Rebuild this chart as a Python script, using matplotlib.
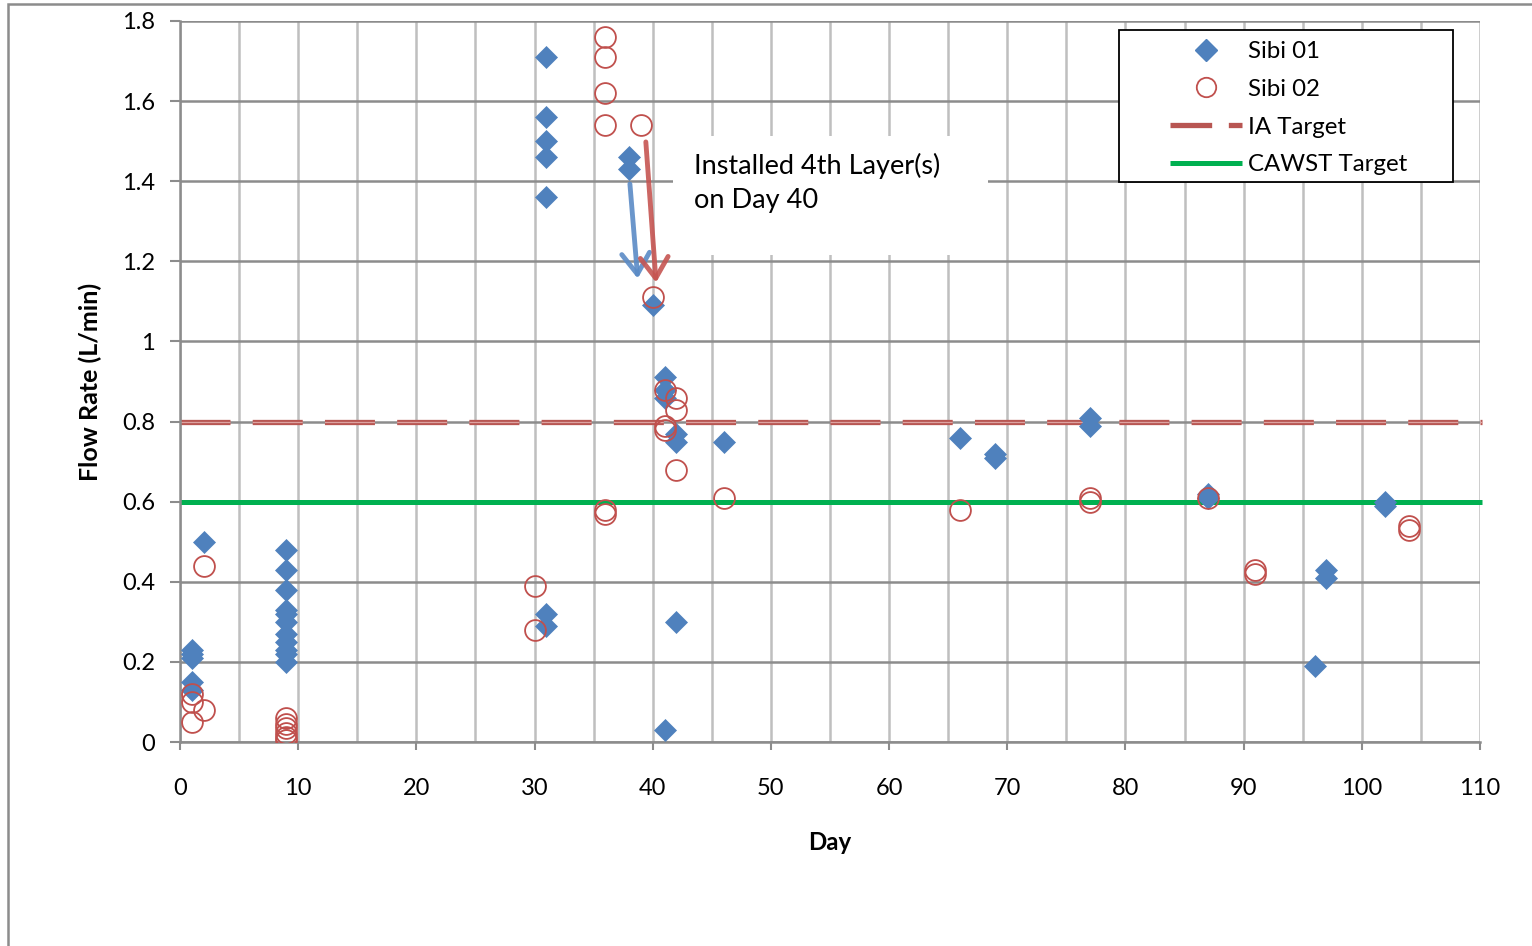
import numpy as np
import matplotlib
matplotlib.use('Agg')
import matplotlib.pyplot as plt
from matplotlib.lines import Line2D
from matplotlib.patches import Rectangle
from matplotlib.ticker import MultipleLocator, FuncFormatter

plt.rcParams['font.family'] = ['Lato', 'DejaVu Sans']
plt.rcParams['lines.scale_dashes'] = False

# Sibi 01 (diamonds)
sibi01_day = [1, 1, 1, 1, 1, 2,
              9, 9, 9, 9, 9, 9, 9, 9, 9, 9, 9,
              31, 31, 31, 31, 31, 31, 31,
              38, 38, 40, 41, 41, 41, 41, 42, 42, 42, 46,
              66, 69, 69, 77, 77, 87, 87, 96, 97, 97, 102, 102]
sibi01_flow = [0.23, 0.22, 0.21, 0.15, 0.13, 0.50,
               0.48, 0.43, 0.38, 0.33, 0.32, 0.30, 0.27, 0.25, 0.23, 0.22, 0.20,
               1.71, 1.56, 1.50, 1.46, 1.36, 0.32, 0.29,
               1.46, 1.43, 1.09, 0.91, 0.88, 0.86, 0.03, 0.77, 0.75, 0.30, 0.75,
               0.76, 0.72, 0.71, 0.81, 0.79, 0.62, 0.61, 0.19, 0.43, 0.41, 0.60, 0.59]

# Sibi 02 (open circles)
sibi02_day = [1, 1, 1, 2, 2,
              9, 9, 9, 9, 9, 9,
              30, 30, 36, 36, 36, 36, 36, 36, 39,
              40, 41, 41, 41, 42, 42, 42, 46,
              66, 77, 77, 87, 91, 91, 104, 104]
sibi02_flow = [0.12, 0.10, 0.05, 0.08, 0.44,
               0.06, 0.045, 0.035, 0.022, 0.012, 0.005,
               0.39, 0.28, 1.76, 1.71, 1.62, 1.54, 0.58, 0.57, 1.54,
               1.11, 0.88, 0.79, 0.78, 0.86, 0.83, 0.68, 0.61,
               0.58, 0.61, 0.60, 0.61, 0.43, 0.42, 0.54, 0.53]

ia_target = 0.8
cawst_target = 0.6

blue = '#4F81BD'
red = '#C0504D'
green = '#00B050'

fig = plt.figure(figsize=(15.32, 9.46), dpi=100)
ax = fig.add_axes([180/1532, 1 - 742/946, 1300/1532, 721/946])
ax.set_xlim(0, 110)
ax.set_ylim(0, 1.8)

# grid
ax.xaxis.set_major_locator(MultipleLocator(10))
ax.xaxis.set_minor_locator(MultipleLocator(5))
ax.yaxis.set_major_locator(MultipleLocator(0.2))
ax.grid(which='both', axis='x', color='#BFBFBF', lw=1.8, zorder=0)
ax.grid(which='major', axis='y', color='#8C8C8C', lw=1.8, zorder=0)
ax.set_axisbelow(True)
ax.tick_params(axis='x', which='minor', length=0)
ax.tick_params(axis='x', which='major', length=6, width=1.5, color='#8C8C8C',
               labelsize=17, pad=20)
ax.tick_params(axis='y', length=7, width=1.5, color='#8C8C8C', labelsize=17, pad=11)
ax.yaxis.set_major_formatter(FuncFormatter(lambda v, p: '%g' % round(v, 1)))
for s in ['top', 'right']:
    ax.spines[s].set_visible(False)
for s in ['left', 'bottom']:
    ax.spines[s].set_color('#8C8C8C')
    ax.spines[s].set_linewidth(1.8)

ax.set_xlabel('Day', fontsize=17.3, fontweight='bold', labelpad=23)
ax.set_ylabel('Flow Rate (L/min)', fontsize=18, fontweight='bold', labelpad=14)

# target lines
ax.plot([0, 110.2], [cawst_target] * 2, color=green, lw=3.6, solid_capstyle='butt',
        clip_on=False, zorder=2)
ax.plot([0, 110.2], [ia_target] * 2, color='#B85652', lw=3.8, dashes=(36, 16),
        dash_capstyle='butt', clip_on=False, zorder=2)
ax.plot([0, 110.2], [ia_target] * 2, color='#DDA3A1', lw=0.9, dashes=(36, 16),
        dash_capstyle='butt', clip_on=False, zorder=2)

# data
ax.plot(sibi01_day, sibi01_flow, ls='none', marker='D', ms=11.5, color=blue,
        mec=blue, mew=0.5, zorder=4)
ax.plot(sibi02_day, sibi02_flow, ls='none', marker='o', ms=15, mfc='none',
        mec=red, mew=1.3, zorder=5)

# annotation box and arrows
ax.add_patch(Rectangle((41.7, 1.215), 26.7, 0.297, facecolor='white',
                       edgecolor='none', zorder=1))
ax.text(43.5, 1.395, 'Installed 4th Layer(s)\non Day 40', fontsize=19.5,
        va='center', ha='left', linespacing=1.45, zorder=3)
ax.annotate('', xy=(38.75, 1.15), xytext=(38.05, 1.40),
            arrowprops=dict(arrowstyle='->, head_length=0.6, head_width=0.4',
                            color='#5B8BC6', lw=3.5, mutation_scale=25, alpha=0.9),
            zorder=6)
ax.annotate('', xy=(40.3, 1.14), xytext=(39.4, 1.505),
            arrowprops=dict(arrowstyle='->, head_length=0.6, head_width=0.4',
                            color='#C65552', lw=3.5, mutation_scale=25, alpha=0.9),
            zorder=6)

# legend
handles = [
    Line2D([], [], ls='none', marker='D', ms=11, color=blue),
    Line2D([], [], ls='none', marker='o', ms=14, mfc='none', mec=red, mew=1.3),
    Line2D([], [], color='#B85652', lw=3.8, dashes=(30, 12), dash_capstyle='butt'),
    Line2D([], [], color=green, lw=3.6, solid_capstyle='butt'),
]
labels = ['Sibi 01', 'Sibi 02', 'IA Target', 'CAWST Target']
fig.legend(handles, labels, loc='upper left',
           bbox_to_anchor=(1170/1532, 1 - 41/946), frameon=False, fontsize=17.3,
           handlelength=3.0, handletextpad=0.25, labelspacing=0.7, borderpad=0,
           borderaxespad=0)
fig.patches.append(Rectangle((1119/1532, 1 - 182/946), 334/1532, 152/946,
                             transform=fig.transFigure, facecolor='white',
                             edgecolor='black', lw=1.3, zorder=0.5))

# outer chart border
fig.patches.append(Rectangle((8/1532, -0.05), 1.0, 1.05 - 4/946,
                             transform=fig.transFigure, facecolor='none',
                             edgecolor='#8C8C8C', lw=1.8))

fig.savefig('out.png', dpi=100)
